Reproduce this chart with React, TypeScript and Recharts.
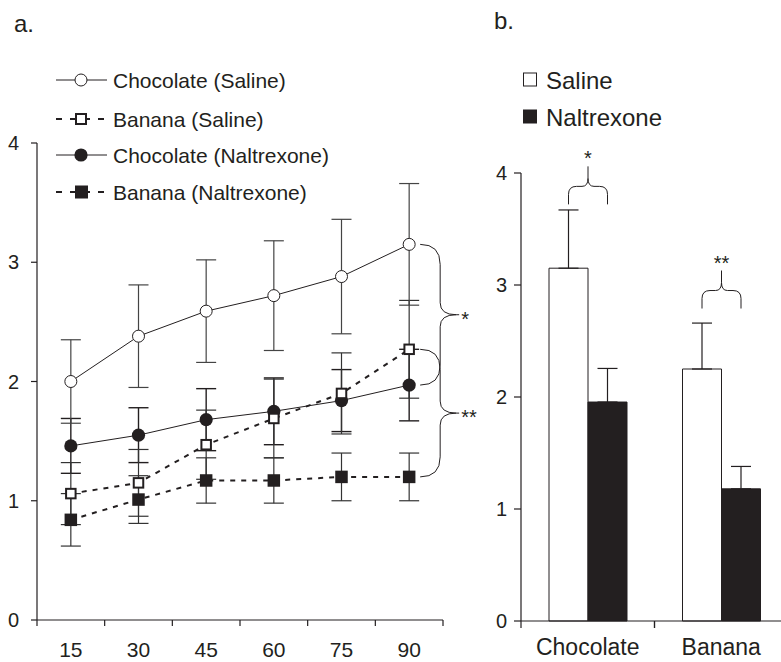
import React from "react";
import {
  LineChart,
  Line,
  BarChart,
  Bar,
  XAxis,
  YAxis,
  ErrorBar,
  Legend,
  ReferenceArea,
  LabelList,
} from "recharts";

const FONT = '"Liberation Sans", Arial, Helvetica, sans-serif';
const INK = "#231f20";

// panel a: intake per 15-min bin
const minutes = [15, 30, 45, 60, 75, 90];
const chocSaline = [2.0, 2.38, 2.59, 2.72, 2.88, 3.15];
const chocSalineSem = [0.35, 0.43, 0.43, 0.46, 0.48, 0.51];
const bananaSaline = [1.06, 1.15, 1.47, 1.69, 1.9, 2.27];
const bananaSalineSem = [0.26, 0.28, 0.29, 0.33, 0.34, 0.41];
const chocNal = [1.46, 1.55, 1.68, 1.75, 1.84, 1.97];
const chocNalSem = [0.23, 0.23, 0.26, 0.28, 0.26, 0.3];
const bananaNal = [0.84, 1.01, 1.17, 1.17, 1.2, 1.2];
const bananaNalSem = [0.22, 0.2, 0.19, 0.19, 0.2, 0.2];
const lineYTicks = [0, 1, 2, 3, 4];
const seriesNames = [
  "Chocolate (Saline)",
  "Banana (Saline)",
  "Chocolate (Naltrexone)",
  "Banana (Naltrexone)",
];
const lineMarks = ["*", "**"];

// panel b: totals
const foods = ["Chocolate", "Banana"];
const salineTotal = [3.15, 2.25];
const salineTotalSem = [0.52, 0.41];
const nalTotal = [1.955, 1.18];
const nalTotalSem = [0.3, 0.2];
const barYTicks = [0, 1, 2, 3, 4];
const barMarks = ["*", "**"];
const barBraceLevel = [3.72, 2.79];
const barLegendNames = ["Saline", "Naltrexone"];

const lineData = minutes.map((m, i) => ({
  m,
  cs: chocSaline[i],
  csE: chocSalineSem[i],
  bs: bananaSaline[i],
  bsE: bananaSalineSem[i],
  cn: chocNal[i],
  cnE: chocNalSem[i],
  bn: bananaNal[i],
  bnE: bananaNalSem[i],
}));

const barData = foods.map((food, i) => ({
  food,
  saline: salineTotal[i],
  salineErr: [0, salineTotalSem[i]],
  nal: nalTotal[i],
  nalErr: [0, nalTotalSem[i]],
}));

const halfStep = (minutes[1] - minutes[0]) / 2;
const binEdges = [minutes[0] - halfStep, ...minutes.map((m) => m + halfStep)];
const xTicks = [...binEdges, ...minutes].sort((a, b) => a - b);
const last = minutes.length - 1;
const lineBraces = [
  { top: chocSaline[last], bottom: chocNal[last], mark: lineMarks[0] },
  { top: bananaSaline[last], bottom: bananaNal[last], mark: lineMarks[1] },
];

function MinuteTick(props: any) {
  const { x, y, payload } = props;
  if (minutes.includes(payload.value)) {
    return (
      <text x={x} y={y + 37} textAnchor="middle" fontSize={21} fill={INK} fontFamily={FONT}>
        {payload.value}
      </text>
    );
  }
  return <line x1={x} x2={x} y1={y} y2={y + 6} stroke={INK} strokeWidth={1.2} />;
}

function FoodTick(props: any) {
  const { x, y, payload } = props;
  const off = payload.offset ?? 0;
  return (
    <g>
      <line x1={x - off} x2={x - off} y1={y} y2={y + 7} stroke={INK} strokeWidth={1.2} />
      <line x1={x + off} x2={x + off} y1={y} y2={y + 7} stroke={INK} strokeWidth={1.2} />
      <text x={x} y={y + 34} textAnchor="middle" fontSize={23} fill={INK} fontFamily={FONT}>
        {payload.value}
      </text>
    </g>
  );
}

function SideBrace(props: any) {
  const { x, y, height, mark } = props;
  const x0 = x + 11;
  const x1 = x + 31;
  const x2 = x + 47;
  const yt = y;
  const yb = y + height;
  const ym = y + height / 2;
  const d = `M${x0},${yt} Q${x1},${yt} ${x1},${yt + 20} L${x1},${ym - 12} Q${x1},${ym} ${x2},${ym} L${x2 + 3},${ym} M${x2},${ym} Q${x1},${ym} ${x1},${ym + 12} L${x1},${yb - 20} Q${x1},${yb} ${x0},${yb}`;
  return (
    <g>
      <path d={d} fill="none" stroke={INK} strokeWidth={1} />
      <text x={x2 + 5} y={ym + 11} fontSize={20} fill={INK} fontFamily={FONT}>
        {mark}
      </text>
    </g>
  );
}

function BarBrace(props: any) {
  const vb = props.viewBox ?? props;
  const { x, y, width, height } = vb;
  const idx = props.index ?? 0;
  const bottom = y + height;
  const pxPerUnit = height / props.value;
  const yb = bottom - barBraceLevel[idx] * pxPerUnit;
  const yh = yb - 18;
  const yt = yb - 38;
  const sx = x + width / 2;
  const ex = x + width * 1.5;
  const xm = (sx + ex) / 2;
  const d = `M${sx},${yb} L${sx},${yh + 8} Q${sx},${yh} ${sx + 8},${yh} L${xm - 6},${yh} Q${xm},${yh} ${xm},${yh - 8} L${xm},${yt} M${xm},${yh - 8} Q${xm},${yh} ${xm + 6},${yh} L${ex - 8},${yh} Q${ex},${yh} ${ex},${yh + 8} L${ex},${yb}`;
  return (
    <g>
      <path d={d} fill="none" stroke={INK} strokeWidth={1} />
      <text x={xm} y={yt - 1} textAnchor="middle" fontSize={20} fill={INK} fontFamily={FONT}>
        {barMarks[idx]}
      </text>
    </g>
  );
}

const squareDot = (size: number, fill: string, sw: number) => (p: any) => (
  <rect
    key={`sq-${p.index}`}
    x={p.cx - size / 2}
    y={p.cy - size / 2}
    width={size}
    height={size}
    fill={fill}
    stroke={INK}
    strokeWidth={sw}
  />
);

function LineLegend() {
  const rows = [20, 59, 95, 132];
  const markers = [
    <circle cx={81} cy={rows[0]} r={6} fill="#fff" stroke={INK} strokeWidth={1} />,
    <rect x={76} y={rows[1] - 5} width={10} height={10} fill="#fff" stroke={INK} strokeWidth={2} />,
    <circle cx={81} cy={rows[2]} r={6.6} fill={INK} />,
    <rect x={75} y={rows[3] - 6.5} width={13} height={13} fill={INK} />,
  ];
  return (
    <svg width={400} height={160} style={{ display: "block" }}>
      {seriesNames.map((name, i) => (
        <g key={name}>
          <line
            x1={56}
            x2={107}
            y1={rows[i]}
            y2={rows[i]}
            stroke={INK}
            strokeWidth={i % 2 ? 2 : 1}
            strokeDasharray={i % 2 ? "6 8" : undefined}
          />
          {markers[i]}
          <text x={113} y={rows[i] + 7.5} fontSize={21} fill={INK} fontFamily={FONT}>
            {name}
          </text>
        </g>
      ))}
    </svg>
  );
}

function BarLegend() {
  const rows = [20, 57];
  return (
    <svg width={260} height={80} style={{ display: "block" }}>
      {barLegendNames.map((name, i) => (
        <g key={name}>
          <rect
            x={33.5}
            y={rows[i] - 7}
            width={13}
            height={13}
            fill={i === 0 ? "#fff" : INK}
            stroke={INK}
            strokeWidth={1}
          />
          <text x={56} y={rows[i] + 8.5} fontSize={24} fill={INK} fontFamily={FONT}>
            {name}
          </text>
        </g>
      ))}
    </svg>
  );
}

const axisText = { fontSize: 20, fill: INK, fontFamily: FONT };

export default function App() {
  return (
    <div
      style={{
        position: "absolute",
        left: 0,
        top: 0,
        width: 781,
        height: 662,
        overflow: "hidden",
        background: "#fff",
        fontFamily: FONT,
      }}
    >
      <div style={{ position: "absolute", left: 0, top: 0 }}>
        <LineChart
          width={500}
          height={662}
          data={lineData}
          margin={{ top: 143, right: 57, bottom: 0, left: 0 }}
        >
          <XAxis
            dataKey="m"
            type="number"
            domain={[binEdges[0], binEdges[binEdges.length - 1]]}
            ticks={xTicks}
            interval={0}
            height={42}
            tickLine={false}
            tickSize={0}
            tickMargin={0}
            axisLine={{ stroke: INK, strokeWidth: 1.2 }}
            tick={(p: any) => <MinuteTick {...p} />}
          />
          <YAxis
            domain={[0, 4]}
            ticks={lineYTicks}
            width={37}
            tickSize={6}
            tickMargin={12}
            tick={axisText}
            tickLine={{ stroke: INK, strokeWidth: 1.2 }}
            axisLine={{ stroke: INK, strokeWidth: 1.2 }}
          />
          <Legend
            layout="vertical"
            align="center"
            verticalAlign="middle"
            content={() => <LineLegend />}
            wrapperStyle={{ left: 0, top: 60, width: 400, height: 160 }}
          />
          {lineBraces.map((b) => (
            <ReferenceArea
              key={b.mark}
              x1={minutes[last]}
              x2={minutes[last] + halfStep}
              y1={b.bottom}
              y2={b.top}
              ifOverflow="visible"
              shape={(p: any) => <SideBrace {...p} mark={b.mark} />}
            />
          ))}
          <Line
            dataKey="bn"
            stroke={INK}
            strokeWidth={2}
            strokeDasharray="5 6"
            dot={squareDot(12.5, INK, 0)}
            activeDot={false}
            isAnimationActive={false}
          >
            <ErrorBar dataKey="bnE" width={10} stroke="#333" strokeWidth={1.2} direction="y" />
          </Line>
          <Line
            dataKey="cn"
            stroke={INK}
            strokeWidth={1}
            dot={{ r: 6.6, fill: INK, stroke: INK, strokeWidth: 0 }}
            activeDot={false}
            isAnimationActive={false}
          >
            <ErrorBar dataKey="cnE" width={10} stroke={INK} strokeWidth={1.4} direction="y" />
          </Line>
          <Line
            dataKey="bs"
            stroke={INK}
            strokeWidth={2}
            strokeDasharray="5 6"
            dot={squareDot(9.5, "#fff", 2)}
            activeDot={false}
            isAnimationActive={false}
          >
            <ErrorBar dataKey="bsE" width={10} stroke="#333" strokeWidth={1.2} direction="y" />
          </Line>
          <Line
            dataKey="cs"
            stroke={INK}
            strokeWidth={1}
            dot={{ r: 6, fill: "#fff", stroke: INK, strokeWidth: 1 }}
            activeDot={false}
            isAnimationActive={false}
          >
            <ErrorBar dataKey="csE" width={10} stroke="#444" strokeWidth={1.2} direction="y" />
          </Line>
        </LineChart>
      </div>

      <div style={{ position: "absolute", left: 490, top: 0 }}>
        <BarChart
          width={300}
          height={662}
          data={barData}
          margin={{ top: 173, right: 2, bottom: 0, left: 0 }}
          barGap={0}
          barSize={39}
        >
          <XAxis
            dataKey="food"
            height={41}
            interval={0}
            tickLine={false}
            tickSize={0}
            tickMargin={0}
            axisLine={{ stroke: INK, strokeWidth: 1.2 }}
            tick={(p: any) => <FoodTick {...p} />}
          />
          <YAxis
            domain={[0, 4]}
            ticks={barYTicks}
            width={31}
            tickSize={7}
            tickMargin={7}
            tick={axisText}
            tickLine={{ stroke: INK, strokeWidth: 1.2 }}
            axisLine={{ stroke: INK, strokeWidth: 1.2 }}
          />
          <Legend
            layout="vertical"
            align="center"
            verticalAlign="middle"
            content={() => <BarLegend />}
            wrapperStyle={{ left: 0, top: 60, width: 260, height: 80 }}
          />
          <Bar dataKey="saline" fill="#fff" stroke={INK} strokeWidth={1} isAnimationActive={false}>
            <ErrorBar dataKey="salineErr" width={10} stroke={INK} strokeWidth={1.2} />
            <LabelList dataKey="saline" content={(p: any) => <BarBrace {...p} />} />
          </Bar>
          <Bar dataKey="nal" fill={INK} stroke={INK} strokeWidth={1} isAnimationActive={false}>
            <ErrorBar dataKey="nalErr" width={10} stroke={INK} strokeWidth={1.2} />
          </Bar>
        </BarChart>
      </div>

      <svg
        width={781}
        height={50}
        style={{ position: "absolute", left: 0, top: 0, pointerEvents: "none" }}
      >
        <text x={14} y={32} fontSize={24} fill={INK} fontFamily={FONT}>
          a.
        </text>
        <text x={494} y={29} fontSize={24} fill={INK} fontFamily={FONT}>
          b.
        </text>
      </svg>
    </div>
  );
}
